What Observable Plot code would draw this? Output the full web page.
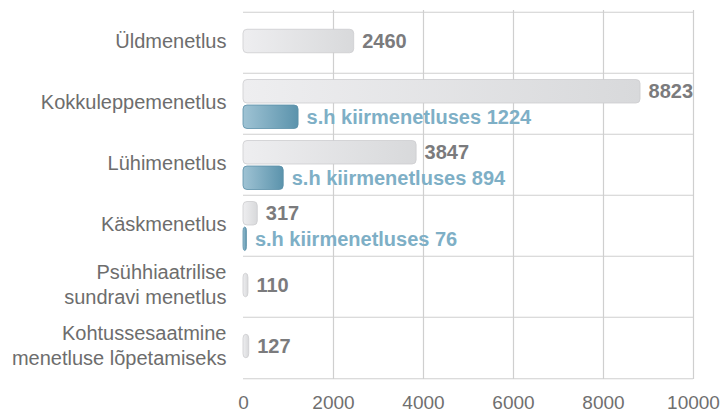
<!DOCTYPE html>
<html>
<head>
<meta charset="utf-8">
<script src="https://cdn.jsdelivr.net/npm/d3@7"></script>
<script src="https://cdn.jsdelivr.net/npm/@observablehq/plot@0.6"></script>
<style>
  html, body { margin: 0; padding: 0; background: #fff; }
  #chart { width: 723px; height: 413px; }
</style>
</head>
<body>
<div id="chart"></div>
<script>
const categories = [
  "Üldmenetlus",
  "Kokkuleppemenetlus",
  "Lühimenetlus",
  "Käskmenetlus",
  "Psühhiaatrilise\nsundravi menetlus",
  "Kohtussesaatmine\nmenetluse lõpetamiseks"
];
const totals = [2460, 8823, 3847, 317, 110, 127];
const fastTrack = [null, 1224, 894, 76, null, null];
const fastLabel = "s.h kiirmenetluses";
const xTicks = [0, 2000, 4000, 6000, 8000, 10000];

const rows = categories.map((c, i) => ({category: c, total: totals[i], fast: fastTrack[i]}));
const singleRows = rows.filter(d => d.fast == null);
const doubleRows = rows.filter(d => d.fast != null);

const W = 723, H = 413, mT = 10, mB = 34, mL = 243, mR = 30;
const band = (H - mT - mB) / categories.length;

const font = "'Liberation Sans', Arial, Helvetica, sans-serif";
const grid = "#cfcfcf";
const numColor = "#7b7b7d";
const blueText = "#7eafc6";

const plot = Plot.plot({
  width: W,
  height: H,
  marginTop: mT,
  marginBottom: mB,
  marginLeft: mL,
  marginRight: mR,
  style: {fontFamily: font, background: "#fff"},
  x: {domain: [0, 10000]},
  y: {domain: categories, padding: 0, axis: null},
  marks: [
    Plot.gridX(xTicks.slice(1), {stroke: grid, strokeOpacity: 1, strokeWidth: 1.2}),
    Plot.ruleY(categories, {y: d => d, dy: -band / 2, stroke: grid, strokeWidth: 1.2}),
    Plot.ruleY([categories[categories.length - 1]], {y: d => d, dy: band / 2, stroke: grid, strokeWidth: 1.2}),
    Plot.axisX({ticks: xTicks, tickFormat: d => String(d), tickSize: 0, tickPadding: 16, fontSize: 19, fill: "#6f6f6f", label: null}),
    Plot.text(categories, {y: d => d, frameAnchor: "left", textAnchor: "end", dx: -17, dy: -3.5, lineHeight: 1.25, fontSize: 20, fill: "#6d6d6d"}),
    // single bars
    Plot.barX(singleRows, {y: "category", x: "total", insetTop: 17.25, insetBottom: 20.25, fill: "url(#gGray)", stroke: "#cdcdcf", strokeWidth: 0.8, rx: 4}),
    Plot.text(singleRows, {y: "category", x: "total", text: d => String(d.total), dx: 8, dy: -1.5, textAnchor: "start", fontSize: 20, fontWeight: "bold", fill: numColor}),
    // double rows: total
    Plot.barX(doubleRows, {y: "category", x: "total", insetTop: 6.5, insetBottom: band - 30.5, fill: "url(#gGray)", stroke: "#cdcdcf", strokeWidth: 0.8, rx: 4}),
    Plot.text(doubleRows, {y: "category", x: "total", text: d => String(d.total), dx: 8, dy: 18.5 - band / 2, textAnchor: "start", fontSize: 20, fontWeight: "bold", fill: numColor}),
    // double rows: fast track
    Plot.barX(doubleRows, {y: "category", x: "fast", insetTop: 32, insetBottom: band - 56, fill: "url(#gBlue)", stroke: "#5a8fa8", strokeWidth: 0.8, rx: 4}),
    Plot.text(doubleRows, {y: "category", x: "fast", text: d => `${fastLabel} ${d.fast}`, dx: 8, dy: 44 - band / 2, textAnchor: "start", fontSize: 20, fontWeight: "bold", fill: blueText})
  ]
});

const svg = d3.select(plot);
const defs = svg.insert("defs", ":first-child");
const g1 = defs.append("linearGradient").attr("id", "gGray").attr("x1", 0).attr("y1", 0).attr("x2", 1).attr("y2", 0);
g1.append("stop").attr("offset", "0%").attr("stop-color", "#eeeef0");
g1.append("stop").attr("offset", "100%").attr("stop-color", "#d8d9db");
const g2 = defs.append("linearGradient").attr("id", "gBlue").attr("x1", 0).attr("y1", 0).attr("x2", 1).attr("y2", 0);
g2.append("stop").attr("offset", "0%").attr("stop-color", "#9fc3d4");
g2.append("stop").attr("offset", "100%").attr("stop-color", "#5b93ac");

document.getElementById("chart").appendChild(plot);
</script>
</body>
</html>
